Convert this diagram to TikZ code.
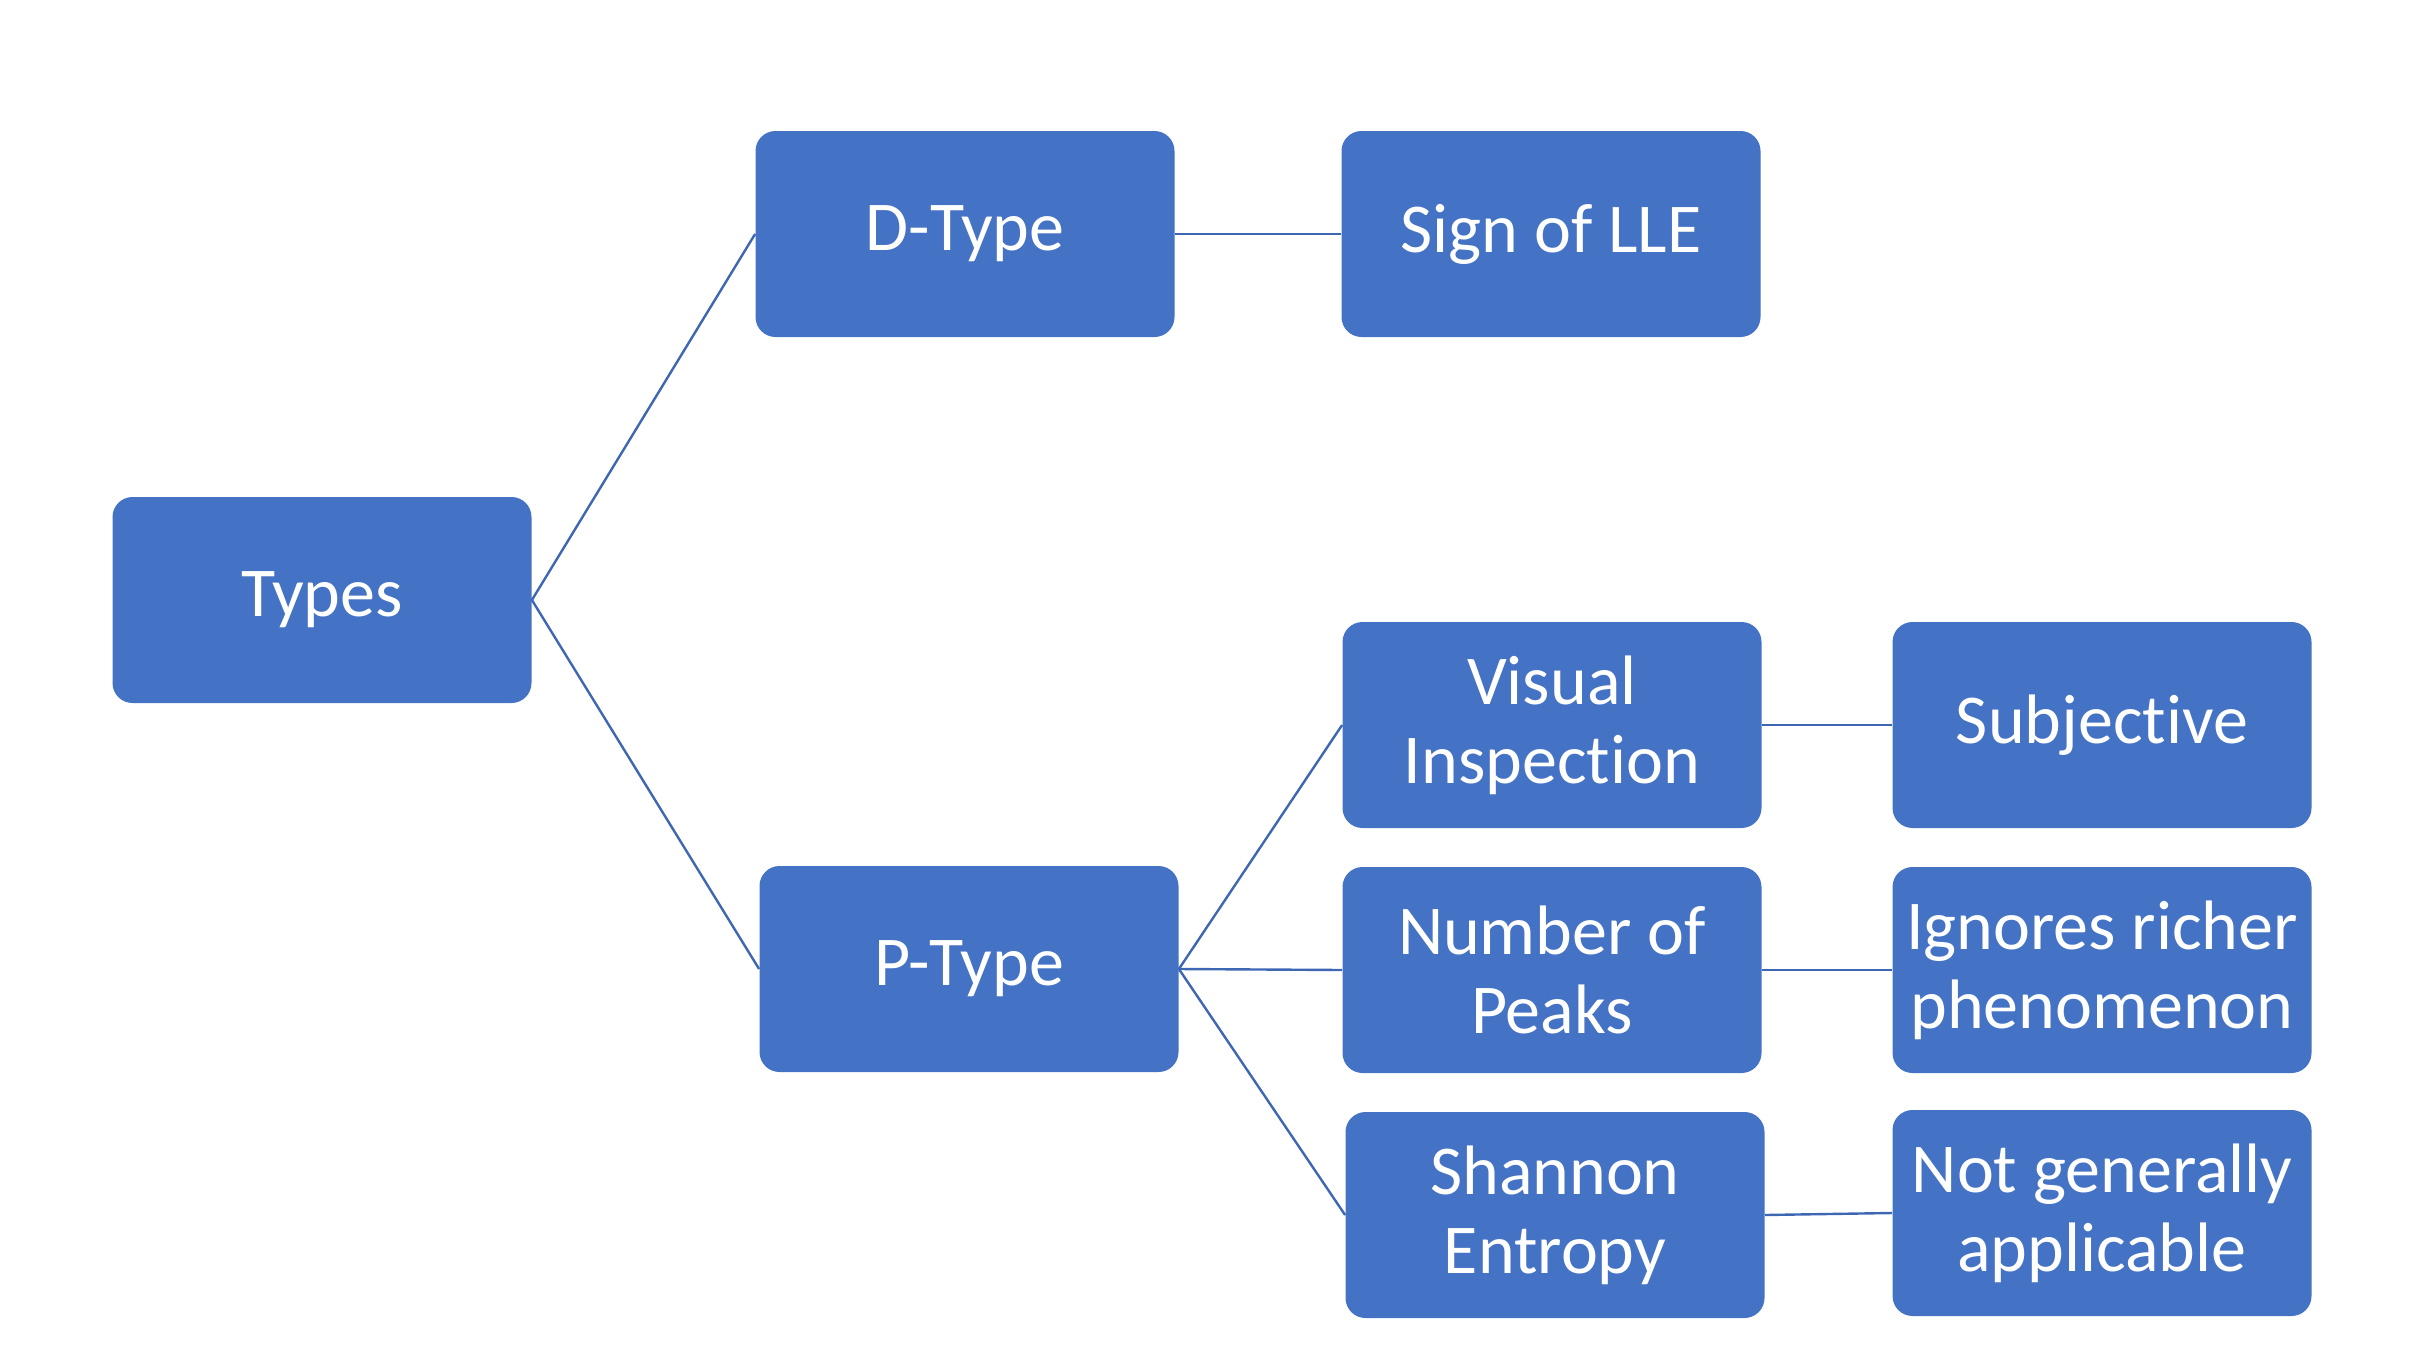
\documentclass[tikz,border=0pt]{standalone}
\usepackage{fontspec}
\setmainfont[Ligatures=NoCommon,RawFeature={-liga;-calt;-dlig}]{Carlito}
\definecolor{boxblue}{HTML}{4472C4}
\definecolor{lineblue}{HTML}{3E67B3}
\begin{document}
\begin{tikzpicture}[x=0.5pt,y=-0.5pt,
  box/.style={draw=none,fill=boxblue,rounded corners=10pt,minimum width=209.5pt,minimum height=103pt,
    inner sep=0pt,align=center,text=white,font=\fontsize{35pt}{39.5pt}\selectfont},
  link/.style={draw=lineblue,line width=1.2pt}]
\useasboundingbox (0,0) rectangle (2434,1354);
\node[box] (types) at (322,600) {Types};
\node[box] (dtype) at (965,234) {D-Type};
\node[box] (sign) at (1551,234) {Sign of LLE};
\node[box] (ptype) at (969,969) {P-Type};
\node[box] (visual) at (1552,725) {Visual\\Inspection};
\node[box] (subj) at (2102,725) {Subjective};
\node[box] (peaks) at (1552,970) {Number of\\Peaks};
\node[box] (ignores) at (2102,970) {Ignores richer\\phenomenon};
\node[box] (shannon) at (1555,1215) {Shannon\\Entropy};
\node[box] (notgen) at (2102,1213) {Not generally\\applicable};
\draw[link] (types.east) -- (dtype.west);
\draw[link] (types.east) -- (ptype.west);
\draw[link] (dtype.east) -- (sign.west);
\draw[link] (ptype.east) -- (visual.west);
\draw[link] (ptype.east) -- (peaks.west);
\draw[link] (ptype.east) -- (shannon.west);
\draw[link] (visual.east) -- (subj.west);
\draw[link] (peaks.east) -- (ignores.west);
\draw[link] (shannon.east) -- (notgen.west);
\end{tikzpicture}
\end{document}
